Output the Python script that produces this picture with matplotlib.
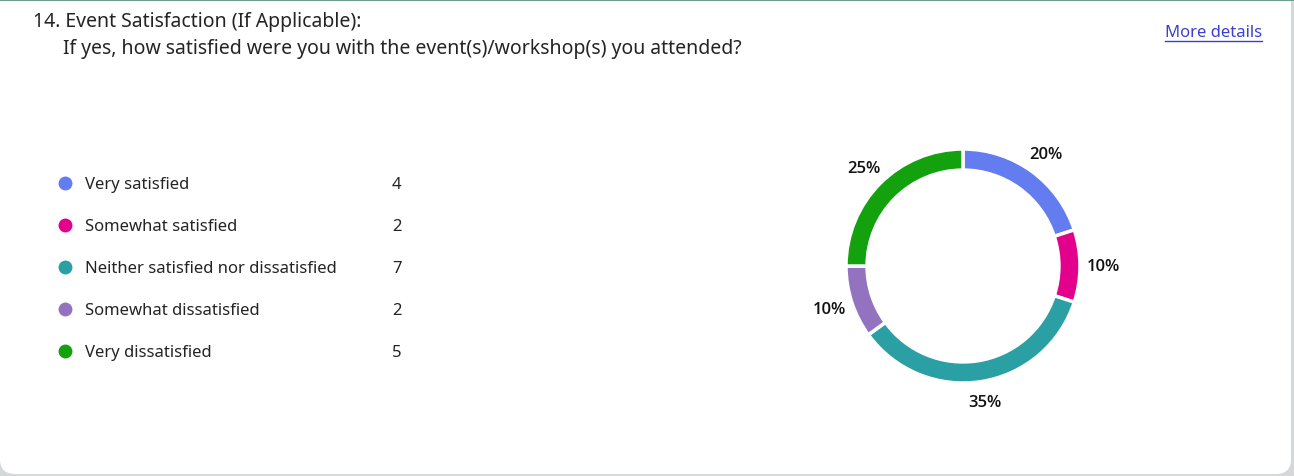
import numpy as np
import matplotlib.pyplot as plt
from matplotlib.patches import FancyBboxPatch, Rectangle

plt.rcParams['font.family'] = ['Noto Sans', 'DejaVu Sans']

title = '14. Event Satisfaction (If Applicable):'
question = 'If yes, how satisfied were you with the event(s)/workshop(s) you attended?'
options = ['Very satisfied', 'Somewhat satisfied', 'Neither satisfied nor dissatisfied',
           'Somewhat dissatisfied', 'Very dissatisfied']
counts = [4, 2, 7, 2, 5]
colors = ['#637CEF', '#E3008C', '#2AA0A4', '#9373C0', '#13A10E']

W, H = 1294, 477
fig = plt.figure(figsize=(W / 100, H / 100), dpi=100)
fig.patch.set_facecolor('#d4d8d8')

# full-figure axes in pixel units for the card and the texts
bg = fig.add_axes([0, 0, 1, 1])
bg.set_xlim(0, W)
bg.set_ylim(H, 0)
bg.axis('off')
bg.add_patch(FancyBboxPatch((0, -30), W - 3, H - 2 + 30,
                            boxstyle='round,pad=0,rounding_size=15',
                            facecolor='white', edgecolor='none'))
bg.add_patch(Rectangle((0, 0), W, 2, facecolor='#6e9c8d', edgecolor='none'))

bg.text(33, 22, title, fontsize=14, color='#242424', va='center')
bg.text(63, 49, question, fontsize=14, color='#242424', va='center')

link = bg.text(1262, 33, 'More details', fontsize=12, color='#3b3fd6',
               ha='right', va='center')
fig.canvas.draw()
bb = link.get_window_extent().transformed(bg.transData.inverted())
bg.plot([bb.x0, bb.x1], [42, 42], color='#3b3fd6', lw=1)

# legend rows
for i, (name, n, col) in enumerate(zip(options, counts, colors)):
    y = 184 + 42 * i
    bg.plot(65, y, 'o', ms=10, color=col, mec='none')
    bg.text(85, y + 1.5, name, fontsize=12, color='#242424', va='center')
    bg.text(392, y + 1.5, str(n), fontsize=12, color='#242424', va='center')

# donut
R = 117
ax = fig.add_axes([(963 - 180) / W, (H - 267 - 180) / H, 360 / W, 360 / H])
wedges, _ = ax.pie(counts, colors=colors, startangle=90, counterclock=False,
                   wedgeprops=dict(width=0.18, edgecolor='white', linewidth=2.5))
lim = 180 / R
ax.set_xlim(-lim, lim)
ax.set_ylim(-lim, lim)
total = sum(counts)
for w, n in zip(wedges, counts):
    ang = np.deg2rad((w.theta1 + w.theta2) / 2)
    ax.text(1.2 * np.cos(ang), 1.18 * np.sin(ang), f'{n / total:.0%}',
            ha='center', va='center', fontsize=12, fontweight='semibold',
            family=['Open Sans', 'DejaVu Sans'], color='#111111')

fig.savefig('out.png', dpi=100, facecolor=fig.get_facecolor())
